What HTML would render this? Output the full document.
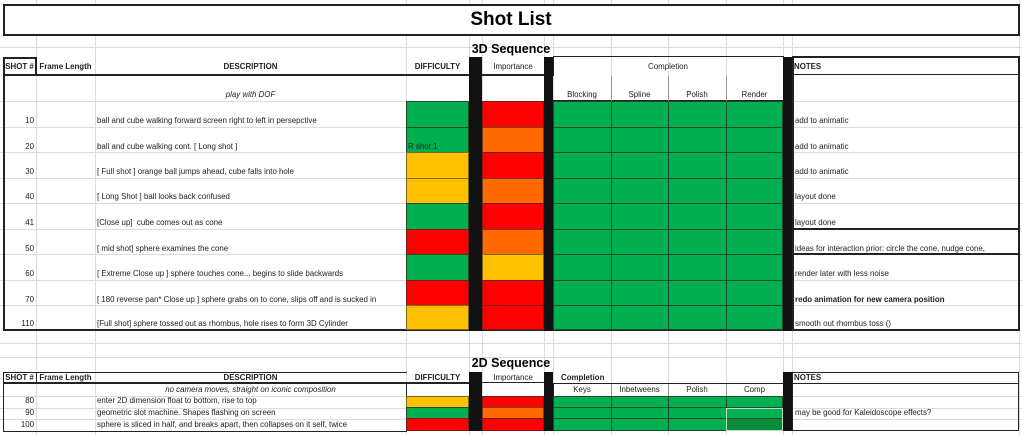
<!DOCTYPE html>
<html><head><meta charset="utf-8"><style>
body{margin:0;width:1022px;height:435px;background:#fff;position:relative;overflow:hidden;font-family:"Liberation Sans",sans-serif;color:#222}
div{position:absolute;box-sizing:border-box}
.v{top:0;width:1px;height:435px;background:#dcdcdc}
.h{left:0;width:1022px;height:1px;background:#dcdcdc}
.t{font-size:7.9px;white-space:nowrap;line-height:10px;height:10px}
.b{font-weight:bold}
.G{background:#00b050;border:1px solid #1b4d2b}
.R{background:#ff0000;border:1px solid #7a1a1a}
.O{background:#ff6a00;border:1px solid #7a3a1a}
.Y{background:#ffc000;border:1px solid #7a6a1a}
.K{background:#111}
</style></head><body>
<div class="v" style="left:36px"></div><div class="v" style="left:95px"></div><div class="v" style="left:406px"></div><div class="v" style="left:469px"></div><div class="v" style="left:482px"></div><div class="v" style="left:544px"></div><div class="v" style="left:553px"></div><div class="v" style="left:611px"></div><div class="v" style="left:668px"></div><div class="v" style="left:726px"></div><div class="v" style="left:783px"></div><div class="v" style="left:792px"></div><div class="v" style="left:1019px"></div>
<div class="h" style="top:47px"></div><div class="h" style="top:101px"></div><div class="h" style="top:127px"></div><div class="h" style="top:152px"></div><div class="h" style="top:178px"></div><div class="h" style="top:203px"></div><div class="h" style="top:229px"></div><div class="h" style="top:254px"></div><div class="h" style="top:280px"></div><div class="h" style="top:305px"></div><div class="h" style="top:343px"></div><div class="h" style="top:357px"></div><div class="h" style="top:396px"></div><div class="h" style="top:408px"></div><div class="h" style="top:419px"></div>
<div style="left:3px;top:4px;width:1017px;height:32px;border:2px solid #222;background:#fff"></div>
<div style="left:0;top:9px;width:1022px;text-align:center;font-size:19px;font-weight:bold;color:#000">Shot List</div>
<div style="left:0;top:42px;width:1022px;text-align:center;font-size:12.5px;font-weight:bold;color:#000">3D Sequence</div>
<div style="left:3px;top:57px;width:1017px;height:274px;border:2px solid #222;border-right:none;border-top:none;background:transparent"></div>
<div style="left:3px;top:57px;width:34px;height:19px;border:2px solid #222"></div>
<div style="left:3px;top:74px;width:468px;height:2px;background:#222"></div>
<div style="left:482px;top:74px;width:62px;height:2px;background:#222"></div>
<div style="left:553px;top:56px;width:231px;height:20px;border:1px solid #222;border-bottom:none"></div>
<div style="left:553px;top:100px;width:231px;height:1px;background:#222"></div>
<div style="left:611px;top:76px;width:1px;height:25px;background:#999"></div><div style="left:668px;top:76px;width:1px;height:25px;background:#999"></div><div style="left:726px;top:76px;width:1px;height:25px;background:#999"></div>
<div style="left:792px;top:56px;width:228px;height:275px;border:2px solid #222"></div>
<div style="left:792px;top:74px;width:228px;height:1px;background:#222"></div>
<div style="left:792px;top:228px;width:228px;height:2px;background:#222"></div>
<div style="left:792px;top:253px;width:228px;height:2px;background:#222"></div>
<div class="K" style="left:469px;top:57px;width:13px;height:274px"></div>
<div class="K" style="left:544px;top:57px;width:9px;height:274px"></div>
<div class="K" style="left:783px;top:57px;width:9px;height:274px"></div>
<div class="t b" style="left:3px;top:62px;width:33px;text-align:center">SHOT #</div>
<div class="t b" style="left:36px;top:62px;width:59px;text-align:center">Frame Length</div>
<div class="t b" style="left:95px;top:62px;width:311px;text-align:center">DESCRIPTION</div>
<div class="t b" style="left:406px;top:62px;width:63px;text-align:center">DIFFICULTY</div>
<div class="t" style="left:482px;top:62px;width:62px;text-align:center">Importance</div>
<div class="t" style="left:553px;top:62px;width:230px;text-align:center">Completion</div>
<div class="t b" style="left:794px;top:62px">NOTES</div>
<div class="t" style="left:95px;top:90px;width:311px;text-align:center;font-style:italic">play with DOF</div>
<div class="t" style="left:553px;top:90px;width:58px;text-align:center">Blocking</div>
<div class="t" style="left:611px;top:90px;width:57px;text-align:center">Spline</div>
<div class="t" style="left:668px;top:90px;width:58px;text-align:center">Polish</div>
<div class="t" style="left:726px;top:90px;width:57px;text-align:center">Render</div>
<div class="G" style="left:406px;top:101px;width:63px;height:27px"></div><div class="R" style="left:482px;top:101px;width:62px;height:27px"></div>
<div class="G" style="left:406px;top:127px;width:63px;height:26px"></div><div class="O" style="left:482px;top:127px;width:62px;height:26px"></div>
<div class="Y" style="left:406px;top:152px;width:63px;height:27px"></div><div class="R" style="left:482px;top:152px;width:62px;height:27px"></div>
<div class="Y" style="left:406px;top:178px;width:63px;height:26px"></div><div class="O" style="left:482px;top:178px;width:62px;height:26px"></div>
<div class="G" style="left:406px;top:203px;width:63px;height:27px"></div><div class="R" style="left:482px;top:203px;width:62px;height:27px"></div>
<div class="R" style="left:406px;top:229px;width:63px;height:26px"></div><div class="O" style="left:482px;top:229px;width:62px;height:26px"></div>
<div class="G" style="left:406px;top:254px;width:63px;height:27px"></div><div class="Y" style="left:482px;top:254px;width:62px;height:27px"></div>
<div class="R" style="left:406px;top:280px;width:63px;height:26px"></div><div class="R" style="left:482px;top:280px;width:62px;height:26px"></div>
<div class="Y" style="left:406px;top:305px;width:63px;height:25px"></div><div class="R" style="left:482px;top:305px;width:62px;height:25px"></div>
<div style="left:553px;top:101px;width:230px;height:229px;background:#00b050;border:1px solid #1b4d2b;
background-image:linear-gradient(90deg,transparent 57px,#1b4d2b 57px,#1b4d2b 58px,transparent 58px,transparent 114px,#1b4d2b 114px,#1b4d2b 115px,transparent 115px,transparent 172px,#1b4d2b 172px,#1b4d2b 173px,transparent 173px)"></div>
<div style="left:553px;top:127px;width:230px;height:1px;background:#1b4d2b"></div><div style="left:553px;top:152px;width:230px;height:1px;background:#1b4d2b"></div><div style="left:553px;top:178px;width:230px;height:1px;background:#1b4d2b"></div><div style="left:553px;top:203px;width:230px;height:1px;background:#1b4d2b"></div><div style="left:553px;top:229px;width:230px;height:1px;background:#1b4d2b"></div><div style="left:553px;top:254px;width:230px;height:1px;background:#1b4d2b"></div><div style="left:553px;top:280px;width:230px;height:1px;background:#1b4d2b"></div><div style="left:553px;top:305px;width:230px;height:1px;background:#1b4d2b"></div>
<div class="t" style="left:3px;top:116px;width:31px;text-align:right">10</div><div class="t" style="left:97px;top:116px">ball and cube walking forward screen right to left in persepctive</div><div class="t" style="left:795px;top:116px">add to animatic</div>
<div class="t" style="left:3px;top:142px;width:31px;text-align:right">20</div><div class="t" style="left:97px;top:142px">ball and cube walking cont. [ Long shot ]</div><div class="t" style="left:408px;top:142px">R shot 1</div><div class="t" style="left:795px;top:142px">add to animatic</div>
<div class="t" style="left:3px;top:167px;width:31px;text-align:right">30</div><div class="t" style="left:97px;top:167px">[ Full shot ] orange ball jumps ahead, cube falls into hole</div><div class="t" style="left:795px;top:167px">add to animatic</div>
<div class="t" style="left:3px;top:192px;width:31px;text-align:right">40</div><div class="t" style="left:97px;top:192px">[ Long Shot ] ball looks back confused</div><div class="t" style="left:795px;top:192px">layout done</div>
<div class="t" style="left:3px;top:218px;width:31px;text-align:right">41</div><div class="t" style="left:97px;top:218px">[Close up]&nbsp; cube comes out as cone</div><div class="t" style="left:795px;top:218px">layout done</div>
<div class="t" style="left:3px;top:244px;width:31px;text-align:right">50</div><div class="t" style="left:97px;top:244px">[ mid shot] sphere examines the cone</div><div class="t" style="left:795px;top:244px">ideas for interaction prior: circle the cone, nudge cone,</div>
<div class="t" style="left:3px;top:269px;width:31px;text-align:right">60</div><div class="t" style="left:97px;top:269px">[ Extreme Close up ] sphere touches cone... begins to slide backwards</div><div class="t" style="left:795px;top:269px">render later with less noise</div>
<div class="t" style="left:3px;top:295px;width:31px;text-align:right">70</div><div class="t" style="left:97px;top:295px">[ 180 reverse pan* Close up ] sphere grabs on to cone, slips off and is sucked in</div><div class="t b" style="left:795px;top:295px">redo animation for new camera position</div>
<div class="t" style="left:3px;top:319px;width:31px;text-align:right">110</div><div class="t" style="left:97px;top:319px">[Full shot] sphere tossed out as rhombus, hole rises to form 3D Cylinder</div><div class="t" style="left:795px;top:319px">smooth out rhombus toss ()</div>
<div style="left:0;top:356px;width:1022px;text-align:center;font-size:12.5px;font-weight:bold;color:#000">2D Sequence</div>
<div style="left:3px;top:372px;width:404px;height:60px;border:1.5px solid #222;border-right:none"></div>
<div style="left:3px;top:372px;width:34px;height:12px;border:1.5px solid #222"></div>
<div style="left:3px;top:382px;width:468px;height:2px;background:#222"></div>
<div style="left:482px;top:382px;width:62px;height:1px;background:#222"></div>
<div style="left:406px;top:384px;width:1px;height:12px;background:#222"></div>
<div style="left:553px;top:383px;width:231px;height:13px;border:1px solid #222;border-bottom:none"></div>
<div style="left:611px;top:384px;width:1px;height:12px;background:#999"></div><div style="left:668px;top:384px;width:1px;height:12px;background:#999"></div><div style="left:726px;top:384px;width:1px;height:12px;background:#999"></div>
<div style="left:792px;top:372px;width:227px;height:59px;border:1.5px solid #222"></div>
<div style="left:792px;top:383px;width:227px;height:1px;background:#222"></div>
<div class="K" style="left:469px;top:372px;width:13px;height:59px"></div>
<div class="K" style="left:544px;top:372px;width:9px;height:59px"></div>
<div class="K" style="left:783px;top:372px;width:9px;height:59px"></div>
<div class="t b" style="left:3px;top:373px;width:33px;text-align:center">SHOT #</div>
<div class="t b" style="left:36px;top:373px;width:59px;text-align:center">Frame Length</div>
<div class="t b" style="left:95px;top:373px;width:311px;text-align:center">DESCRIPTION</div>
<div class="t b" style="left:406px;top:373px;width:63px;text-align:center">DIFFICULTY</div>
<div class="t" style="left:482px;top:373px;width:62px;text-align:center">Importance</div>
<div class="t b" style="left:561px;top:373px">Completion</div>
<div class="t b" style="left:794px;top:373px">NOTES</div>
<div class="t" style="left:95px;top:385px;width:311px;text-align:center;font-style:italic">no camera moves, straight on iconic composition</div>
<div class="t" style="left:553px;top:385px;width:58px;text-align:center">Keys</div>
<div class="t" style="left:611px;top:385px;width:57px;text-align:center">Inbetweens</div>
<div class="t" style="left:668px;top:385px;width:58px;text-align:center">Polish</div>
<div class="t" style="left:726px;top:385px;width:57px;text-align:center">Comp</div>
<div class="Y" style="left:406px;top:396px;width:63px;height:12px"></div><div class="R" style="left:482px;top:396px;width:62px;height:12px"></div>
<div class="G" style="left:406px;top:407px;width:63px;height:12px"></div><div class="O" style="left:482px;top:407px;width:62px;height:12px"></div>
<div class="R" style="left:406px;top:418px;width:63px;height:13px"></div><div class="R" style="left:482px;top:418px;width:62px;height:13px"></div>
<div style="left:553px;top:396px;width:230px;height:35px;background:#00b050;border:1px solid #1b4d2b;
background-image:linear-gradient(90deg,transparent 57px,#1b4d2b 57px,#1b4d2b 58px,transparent 58px,transparent 114px,#1b4d2b 114px,#1b4d2b 115px,transparent 115px,transparent 172px,#1b4d2b 172px,#1b4d2b 173px,transparent 173px)"></div>
<div style="left:553px;top:407px;width:230px;height:1px;background:#1b4d2b"></div><div style="left:553px;top:418px;width:230px;height:1px;background:#1b4d2b"></div>
<div style="left:726px;top:419px;width:57px;height:12px;background:#0a8a3c"></div>
<div style="left:726px;top:408px;width:57px;height:23px;border:1px solid #b8e0c0"></div>
<div class="t" style="left:3px;top:396px;width:31px;text-align:right">80</div><div class="t" style="left:97px;top:396px">enter 2D dimension float to bottom, rise to top</div>
<div class="t" style="left:3px;top:408px;width:31px;text-align:right">90</div><div class="t" style="left:97px;top:408px">geometric slot machine. Shapes flashing on screen</div><div class="t" style="left:795px;top:408px">may be good for Kaleidoscope effects?</div>
<div class="t" style="left:3px;top:420px;width:31px;text-align:right">100</div><div class="t" style="left:97px;top:420px">sphere is sliced in half, and breaks apart, then collapses on it self, twice</div>
</body></html>
